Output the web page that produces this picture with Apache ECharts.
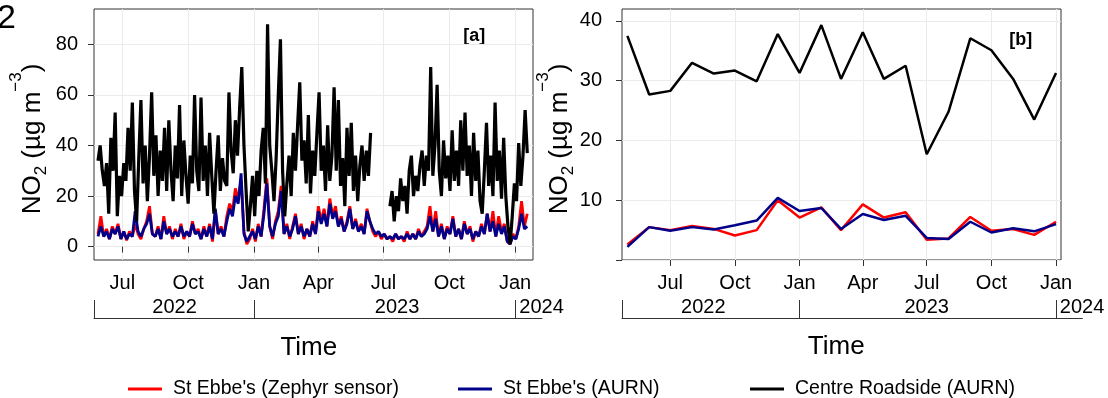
<!DOCTYPE html>
<html>
<head>
<meta charset="utf-8">
<script src="https://cdn.jsdelivr.net/npm/echarts@6/dist/echarts.min.js"></script>
<style>
  html, body { margin: 0; padding: 0; background: #fff; }
  #chart { width: 1108px; height: 398px; }
</style>
</head>
<body>
<div id="chart"></div>
<script>
const FONT = '"Liberation Sans", Arial, sans-serif';

// panel [a]: daily NO2 at St Ebbe's, one reading every 4 days from dailyStart
const dailyStart = '2022-05-28';
const stEbbesStepDays = 4;
const zephyrDaily = [
  5, 12, 4, 7, 3, 8, 5, 9, 3, 6,
  2.5, 6, 4, 9, 5, 3, 7, 10, 16, 5,
  4, 8, 3, 12, 5, 8, 3, 7, 4, 9,
  3, 6, 4, 10, 5, 7, 3, 8, 4, 9,
  2, 14, 5, 8, 4, 12, 17, 14, 23, 19,
  26, 6, 1, 3, 7, 2, 9, 4, 15, 27,
  8, 3, 10, 14, 24, 5, 9, 3, 8, 13,
  5, 9, 3, 7, 4, 10, 5, 16, 10, 15,
  8, 19, 12, 16, 8, 12, 6, 10, 16, 7,
  11, 6, 9, 5, 15, 10, 6, 4, 6, 3,
  5, 3, 4, 2, 5, 3, 4, 2, 6, 3,
  5, 3, 7, 4, 6, 8, 16, 6, 14, 4,
  9, 3, 8, 5, 12, 4, 7, 3, 10, 5,
  8, 2, 6, 4, 9, 5, 13, 6, 14, 4,
  12, 6, 9, 2, 1, 5, 3, 8, 18, 8,
  13
];
const aurnDaily = [
  4, 8, 4, 6, 3, 7, 5, 8, 3, 6,
  3, 5, 4, 14, 6, 4, 7, 9, 13, 5,
  4, 7, 3, 10, 5, 7, 4, 6, 4, 8,
  4, 6, 4, 9, 5, 6, 3, 7, 4, 8,
  3, 15, 5, 7, 4, 10, 15, 12, 20, 17,
  29, 5, 2, 4, 6, 3, 8, 4, 13, 25,
  8, 4, 9, 12, 22, 5, 8, 4, 7, 12,
  5, 8, 4, 7, 4, 9, 5, 14, 9, 13,
  8, 17, 11, 14, 8, 11, 6, 9, 15, 7,
  10, 6, 8, 5, 14, 10, 7, 5, 6, 4,
  5, 3, 4, 3, 5, 3, 4, 3, 5, 3,
  5, 3, 6, 4, 5, 7, 12, 6, 11, 4,
  8, 3, 7, 5, 11, 4, 7, 3, 9, 5,
  7, 3, 6, 4, 8, 5, 13, 6, 10, 4,
  9, 5, 8, 2, 1, 4, 3, 7, 13, 7,
  8
];
// Centre Roadside, one reading every 3 days from dailyStart (null = no data)
const roadsideStepDays = 3;
const roadsideDaily = [
  34, 40, 30, 24, 33, 13, 43, 30, 53, 12,
  28, 20, 33, 26, 47, 30, 57, 22, 10, 35,
  58, 25, 40, 18, 36, 61, 28, 44, 20, 38,
  26, 47, 22, 50, 30, 18, 40, 27, 56, 20,
  42, 28, 17, 36, 25, 60, 30, 22, 59, 26,
  40, 20, 45, 28, 13, 30, 44, 22, 35, 26,
  24, 61, 38, 29, 50, 36, 55, 71, 40, 22,
  6, 16, 28, 12, 30, 20, 38, 47, 25, 88,
  40, 30, 18, 35, 60, 82, 30, 12, 25, 36,
  20, 45, 30, 48, 65, 34, 42, 25, 52, 21,
  38, 28, 45, 61, 30, 40, 22, 48, 26, 36,
  63, 30, 58, 24, 35, 16, 47, 28, 49, 22,
  36, 18, 32, 40, 26, 38, 28, 45,
  null, null, null, null, null, null, null, null,
  16, 22, 10, 20,
  14, 27, 18, 24, 13, 30, 36, 20, 28, 22,
  32, 38, 24, 36, 30, 71, 28, 40, 64, 30,
  20, 42, 27, 36, 22, 46, 26, 38, 24, 50,
  30, 53, 28, 40, 20, 45, 26, 38, 18, 13,
  30, 49, 24, 36, 20, 57, 26, 38, 19, 43,
  20, 8, 1, 12, 25, 18, 41, 24, 36, 54,
  37
];

// panel [b]: monthly means
const months = [
  '2022-05-01', '2022-06-01', '2022-07-01', '2022-08-01', '2022-09-01', '2022-10-01',
  '2022-11-01', '2022-12-01', '2023-01-01', '2023-02-01', '2023-03-01', '2023-04-01',
  '2023-05-01', '2023-06-01', '2023-07-01', '2023-08-01', '2023-09-01', '2023-10-01',
  '2023-11-01', '2023-12-01', '2024-01-01'
];
const zephyrMonthly = [2.6, 5.5, 5.0, 5.7, 5.2, 4.1, 5.0, 10.0, 7.1, 8.8, 5.0, 9.3, 7.1, 8.0, 3.4, 3.6, 7.2, 4.9, 5.2, 4.2, 6.4];
const aurnMonthly = [2.2, 5.5, 4.9, 5.5, 5.1, 5.8, 6.6, 10.4, 8.2, 8.7, 5.2, 7.7, 6.7, 7.4, 3.7, 3.5, 6.4, 4.6, 5.3, 4.8, 6.0];
const roadsideMonthly = [37.5, 27.7, 28.3, 33.0, 31.2, 31.7, 29.9, 37.8, 31.3, 39.3, 30.3, 38.1, 30.3, 32.5, 17.7, 24.8, 37.1, 35.1, 30.3, 23.5, 31.3];

const quarterTicks = ['2022-07-01', '2022-10-01', '2023-01-01', '2023-04-01', '2023-07-01', '2023-10-01', '2024-01-01'];
const monthNames = ['Jan', 'Feb', 'Mar', 'Apr', 'May', 'Jun', 'Jul', 'Aug', 'Sep', 'Oct', 'Nov', 'Dec'];
const yTicksA = [0, 20, 40, 60, 80];
const yTicksB = [0, 10, 20, 30, 40];
const yLabelsB = [10, 20, 30, 40];
const yearBreaks = ['2023-01-01', '2024-01-01'];
const yearLabelsA = ['2022-09-12', '2023-07-20', '2024-02-07'];
const yearLabelsB = ['2022-08-17', '2023-07-01', '2024-02-07'];

const names = ["St Ebbe's (Zephyr sensor)", "St Ebbe's (AURN)", 'Centre Roadside (AURN)'];
const colors = ['#FF0000', '#00008B', '#000000'];

function ts(s) {
  const p = s.split(/[-T]/).map(Number);
  return new Date(p[0], p[1] - 1, p[2], p[3] || 0).getTime();
}
const DAY = 864e5;
const daily = (vals, step) => vals.map((v, i) => [ts(dailyStart) + i * step * DAY, v]);
const monthly = vals => vals.map((v, i) => [ts(months[i]), v]);

// axis extents (ggplot expanded ranges), time kept as epoch ms on value axes
const aMin = ts('2022-05-22T10'), aMax = ts('2024-01-26'), aBrMax = ts('2024-02-07T12');
const bMin = ts('2022-04-23T08'), bMax = ts('2024-01-08T02'), bBrMax = ts('2024-02-07T12');
const PW = 439;
const brWidthA = PW * (aBrMax - aMin) / (aMax - aMin);
const brWidthB = PW * (bBrMax - bMin) / (bMax - bMin);

const gridLine = { show: true, lineStyle: { color: '#EBEBEB', width: 1 } };
const tickStyle = { color: '#333', width: 1 };

function timeAxis(gi, min, max) {
  return {
    gridIndex: gi, type: 'value', min, max, scale: true,
    axisLine: { show: false },
    axisTick: { show: true, customValues: quarterTicks.map(ts), length: 6, lineStyle: tickStyle },
    axisLabel: {
      customValues: quarterTicks.map(ts), fontSize: 20, fontFamily: FONT, color: '#000', margin: 13,
      formatter: v => monthNames[new Date(v).getMonth()]
    },
    splitLine: gridLine
  };
}
function yearAxis(gi, min, max, labels) {
  return {
    gridIndex: gi, type: 'value', min, max, scale: true, position: 'bottom',
    axisLine: { show: true, lineStyle: { color: '#333', width: 1 } },
    axisTick: { show: true, inside: true, length: 18, customValues: [min].concat(yearBreaks.map(ts)), lineStyle: tickStyle },
    axisLabel: {
      inside: true, customValues: labels.map(ts), fontSize: 20, fontFamily: FONT, color: '#000', margin: 1,
      formatter: v => String(new Date(v).getFullYear())
    },
    splitLine: { show: false }
  };
}

function line(name, color, width, ai, data) {
  return {
    name, type: 'line', xAxisIndex: ai, yAxisIndex: ai, data,
    showSymbol: false, symbol: 'none', animation: false,
    lineStyle: { color, width }, itemStyle: { color },
    emphasis: { disabled: true }
  };
}

const yTitle = x => ({
  type: 'text', x, y: 139, rotation: Math.PI / 2,
  style: {
    text: '{m|NO}{sub|2}{m| (µg m}{sup|\u22123}{m|)}',
    align: 'center', verticalAlign: 'middle', fill: '#000',
    rich: {
      m: { fontSize: 26, fontFamily: FONT, lineHeight: 50 },
      sub: { fontSize: 17, fontFamily: FONT, verticalAlign: 'bottom', padding: [0, 0, 8, 0] },
      sup: { fontSize: 17, fontFamily: FONT, lineHeight: 22, verticalAlign: 'top' }
    }
  }
});
const plainText = (x, y, text, font) => ({
  type: 'text', x, y,
  style: { text, font, fill: '#000', align: 'center', verticalAlign: 'middle' }
});

const chart = echarts.init(document.getElementById('chart'), null, { renderer: 'canvas' });
chart.setOption({
  animation: false,
  backgroundColor: '#fff',
  grid: [
    { left: 94, top: 9, width: PW, height: 251, show: true, borderColor: '#333', borderWidth: 1, backgroundColor: 'transparent' },
    { left: 622, top: 9, width: PW, height: 251, show: true, borderColor: '#333', borderWidth: 1, backgroundColor: 'transparent' },
    { left: 94, top: 300, width: brWidthA, height: 18 },
    { left: 622, top: 300, width: brWidthB, height: 18 }
  ],
  xAxis: [
    timeAxis(0, aMin, aMax),
    timeAxis(1, bMin, bMax),
    yearAxis(2, aMin, aBrMax, yearLabelsA),
    yearAxis(3, bMin, bBrMax, yearLabelsB)
  ],
  yAxis: [
    {
      gridIndex: 0, type: 'value', min: -5.3, max: 94,
      axisLine: { show: false },
      axisTick: { show: true, customValues: yTicksA, length: 6, lineStyle: tickStyle },
      axisLabel: { customValues: yTicksA, fontSize: 20, fontFamily: FONT, color: '#000', margin: 16 },
      splitLine: gridLine
    },
    {
      gridIndex: 1, type: 'value', min: 0, max: 42,
      axisLine: { show: false },
      axisTick: { show: true, customValues: yTicksB, length: 6, lineStyle: tickStyle },
      axisLabel: { customValues: yLabelsB, fontSize: 20, fontFamily: FONT, color: '#000', margin: 20 },
      splitLine: gridLine
    },
    { gridIndex: 2, type: 'value', min: 0, max: 1, show: false },
    { gridIndex: 3, type: 'value', min: 0, max: 1, show: false }
  ],
  legend: [128, 458, 750].map((left, k) => ({
    data: [names[k]], left, top: 379, padding: 0, selectedMode: false,
    icon: 'rect', itemWidth: 34, itemHeight: 3,
    textStyle: { fontSize: 19.5, fontFamily: FONT, color: '#000', padding: [0, 0, 0, 6] }
  })),
  series: [
    line(names[0], colors[0], 2.8, 0, daily(zephyrDaily, stEbbesStepDays)),
    line(names[1], colors[1], 2.8, 0, daily(aurnDaily, stEbbesStepDays)),
    line(names[2], colors[2], 3.2, 0, daily(roadsideDaily, roadsideStepDays)),
    line(names[0], colors[0], 2.5, 1, monthly(zephyrMonthly)),
    line(names[1], colors[1], 2.5, 1, monthly(aurnMonthly)),
    line(names[2], colors[2], 2.5, 1, monthly(roadsideMonthly))
  ],
  graphic: [
    { type: 'text', x: -3, y: 36, style: { text: '2', font: '34px ' + FONT, fill: '#000', verticalAlign: 'bottom' } },
    yTitle(32.5),
    yTitle(560.2),
    plainText(308.8, 347.5, 'Time', '26px ' + FONT),
    plainText(836.2, 347, 'Time', '26px ' + FONT),
    plainText(474.2, 35.7, '[a]', 'bold 18px ' + FONT),
    plainText(1020.8, 40.3, '[b]', 'bold 18px ' + FONT)
  ]
});
</script>
</body>
</html>
